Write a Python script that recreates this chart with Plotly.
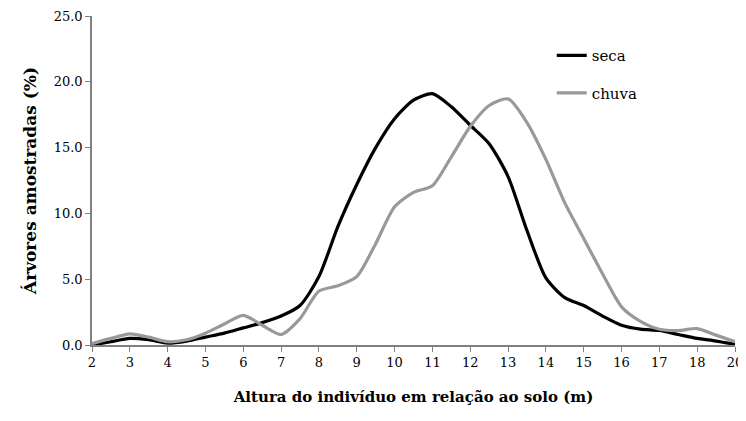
import plotly.graph_objects as go

# Heights (m) of the sampled points; tick labels follow the original category axis
alturas = [2, 2.5, 3, 3.5, 4, 4.5, 5, 5.5, 6, 6.5, 7, 7.5, 8, 8.5, 9, 9.5, 10, 10.5,
           11, 11.5, 12, 12.5, 13, 13.5, 14, 14.5, 15, 15.5, 16, 16.5, 17, 17.5, 18, 19, 20]
seca = [0.0, 0.25, 0.5, 0.4, 0.15, 0.3, 0.6, 0.9, 1.3, 1.7, 2.2, 3.0, 5.2, 9.0, 12.2, 15.0,
        17.2, 18.6, 19.1, 18.1, 16.7, 15.3, 12.8, 8.7, 5.1, 3.6, 3.0, 2.2, 1.5, 1.2, 1.1, 0.8, 0.5, 0.3, 0.05]
chuva = [0.1, 0.5, 0.85, 0.6, 0.25, 0.4, 0.9, 1.6, 2.25, 1.5, 0.8, 2.0, 4.1, 4.5, 5.2, 7.7,
         10.5, 11.6, 12.1, 14.3, 16.6, 18.2, 18.7, 16.9, 14.1, 10.8, 8.1, 5.4, 2.9, 1.8, 1.2, 1.1, 1.25, 0.75, 0.25]
rotulos_x = ["2", "3", "4", "5", "6", "7", "8", "9", "10", "11", "12", "13", "14", "15", "16", "17", "18", "20"]
valores_y = [0, 5, 10, 15, 20, 25]


def posicao(h):
    # category axis: 2..18 then 20 as the next category
    return h - 2 if h <= 18 else 16 + (h - 18) / 2


x_pos = [posicao(h) for h in alturas]
tick_pos = list(range(len(rotulos_x)))

fig = go.Figure()
fig.add_trace(go.Scatter(x=x_pos, y=seca, mode="lines", name="seca", legendgroup="a",
                         line=dict(color="black", width=3.2, shape="spline", smoothing=0.7)))
fig.add_trace(go.Scatter(x=x_pos, y=chuva, mode="lines", name="chuva", legendgroup="b",
                         line=dict(color="#999999", width=3.2, shape="spline", smoothing=0.7)))

font = "DejaVu Serif"
fig.update_layout(
    width=738, height=405,
    margin=dict(l=84, r=11, t=8, b=68),
    plot_bgcolor="white", paper_bgcolor="white",
    font=dict(family=font, size=13, color="black"),
    showlegend=True,
    legend=dict(x=0.715, y=0.93, xanchor="left", yanchor="top", bgcolor="rgba(0,0,0,0)",
                font=dict(family=font, size=15, color="black"), tracegroupgap=15),
    xaxis=dict(range=[0, 17], tickmode="array", tickvals=tick_pos, ticktext=rotulos_x,
               showgrid=False, zeroline=False, showline=True, linecolor="#808080", linewidth=1.5,
               ticks="outside", ticklen=5, tickcolor="#808080", tickfont=dict(family=font, size=13),
               automargin=False, ticklabeloverflow="allow",
               title=dict(text="<b>Altura do indivíduo em relação ao solo (m)</b>",
                          font=dict(family=font, size=15), standoff=22)),
    yaxis=dict(range=[0, 25], tickmode="array", tickvals=valores_y,
               ticktext=[f"{v:.1f}" for v in valores_y],
               showgrid=False, zeroline=False, showline=True, linecolor="#808080", linewidth=1.5,
               ticks="outside", ticklen=5, tickcolor="#808080", tickfont=dict(family=font, size=13),
               automargin=False,
               title=dict(text="<b>Árvores amostradas (%)</b>", font=dict(family=font, size=17), standoff=13)),
)
fig.write_html("out.html")
